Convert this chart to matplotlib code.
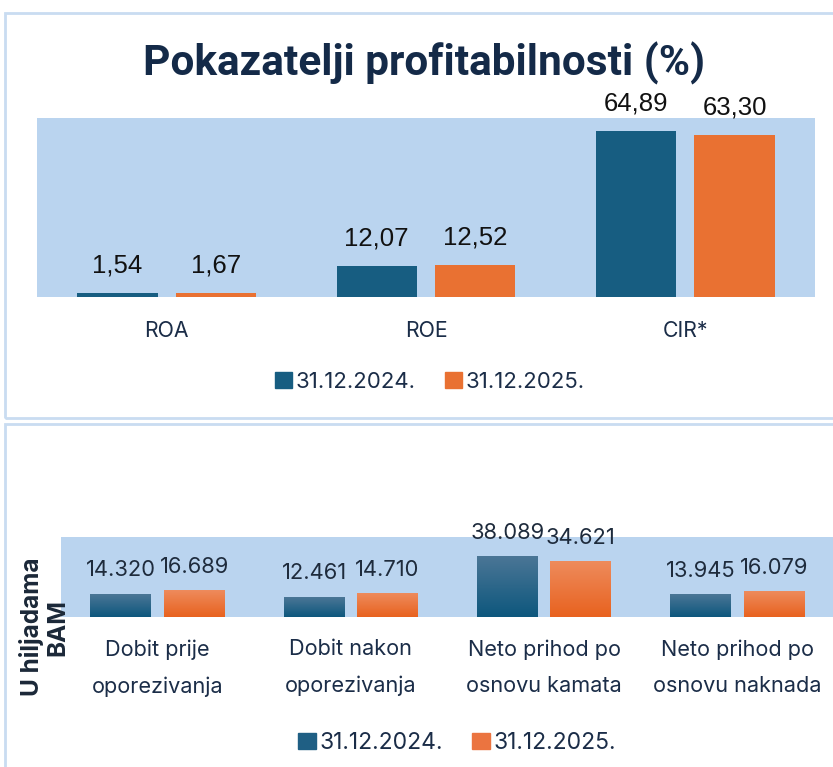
import numpy as np
import matplotlib
matplotlib.use("Agg")
import matplotlib.pyplot as plt
from matplotlib.patches import Rectangle, Patch
from matplotlib.colors import LinearSegmentedColormap

# data
top_categories = ["ROA", "ROE", "CIR*"]
top_2024 = [1.54, 12.07, 64.89]
top_2025 = [1.67, 12.52, 63.30]

bottom_categories = ["Dobit prije\noporezivanja", "Dobit nakon\noporezivanja",
                     "Neto prihod po\nosnovu kamata", "Neto prihod po\nosnovu naknada"]
bottom_2024 = [14320, 12461, 38089, 13945]
bottom_2025 = [16689, 14710, 34621, 16079]

series_labels = ["31.12.2024.", "31.12.2025."]
title = "Pokazatelji profitabilnosti (%)"
ylabel = "U hiljadama\nBAM"

BLUE = "#175D81"
ORANGE = "#E97132"
AREA = "#BAD4EF"
NAVY = "#1B2D48"
BORDER = "#C9DCF1"
W, H = 833, 767


def fmt_comma(v):
    return f"{v:.2f}".replace(".", ",")


def fmt_thousands(v):
    return f"{v:,.0f}".replace(",", ".")


def axes_rect(x0, y0, x1, y1):
    # pixel box (top-left origin) -> figure fraction
    return [x0 / W, 1 - y1 / H, (x1 - x0) / W, (y1 - y0) / H]


fig = plt.figure(figsize=(W / 100, H / 100), dpi=100)

# panel frames
for y0, y1 in ((13, 418), (424, 790)):
    fig.add_artist(Rectangle((5 / W, 1 - y1 / H), 1.0, (y1 - y0) / H,
                             transform=fig.transFigure, fill=False,
                             edgecolor=BORDER, linewidth=2, clip_on=False))

fig.text(424 / W, 1 - 63 / H, title, ha="center", va="center",
         fontsize=30.5, fontweight="bold", color="#142A48", family="Roboto")

# ---- top chart
ax = fig.add_axes(axes_rect(37, 118, 815, 297))
ax.set_facecolor(AREA)
x = np.arange(len(top_categories))
bw = 0.31
off = 0.19
b1 = ax.bar(x - off, top_2024, bw, color=BLUE)
b2 = ax.bar(x + off, top_2025, bw, color=ORANGE)
for bars, vals in ((b1, top_2024), (b2, top_2025)):
    for r, v in zip(bars, vals):
        ax.annotate(fmt_comma(v), (r.get_x() + r.get_width() / 2, v),
                    xytext=(0, 11), textcoords="offset points", ha="center",
                    va="bottom", fontsize=18.5, color="#111111",
                    family="Liberation Sans", annotation_clip=False)
ax.set_xlim(-0.5, len(top_categories) - 0.5)
ax.set_ylim(0, 69.8)
ax.set_yticks([])
ax.set_xticks(x)
ax.set_xticklabels(top_categories, fontsize=15.3, color=NAVY, family="Inter")
ax.tick_params(axis="x", length=0, pad=17)
for s in ax.spines.values():
    s.set_visible(False)
ax.legend(handles=[Patch(color=BLUE), Patch(color=ORANGE)], labels=series_labels,
          loc="center", bbox_to_anchor=(430 / W, 1 - 382 / H),
          bbox_transform=fig.transFigure, ncol=2, frameon=False,
          handlelength=0.75, handleheight=0.75, handletextpad=0.2,
          columnspacing=1.3, prop={"family": "Inter", "size": 16},
          labelcolor=NAVY)

# ---- bottom chart
ax2 = fig.add_axes(axes_rect(61, 537, 834, 617))
ax2.set_facecolor(AREA)
x2 = np.arange(len(bottom_categories))
bw2 = 0.315
off2 = 0.19
cmap_b = LinearSegmentedColormap.from_list("b", ["#0D577D", "#4B7696"])
cmap_o = LinearSegmentedColormap.from_list("o", ["#E8621F", "#EE8B5C"])
grad = np.linspace(0, 1, 100).reshape(-1, 1)
for xs, vals, cmap in ((x2 - off2, bottom_2024, cmap_b), (x2 + off2, bottom_2025, cmap_o)):
    for xc, v in zip(xs, vals):
        ax2.imshow(grad, extent=[xc - bw2 / 2, xc + bw2 / 2, 0, v], origin="lower",
                   aspect="auto", cmap=cmap, zorder=2)
        ax2.annotate(fmt_thousands(v), (xc, v), xytext=(0, 10),
                     textcoords="offset points", ha="center", va="bottom",
                     fontsize=15.8, color="#1E2B3C", family="Inter",
                     annotation_clip=False)
ax2.set_xlim(-0.5, len(bottom_categories) - 0.5)
ax2.set_ylim(0, 50300)
ax2.set_yticks([])
ax2.set_xticks(x2)
ax2.set_xticklabels(bottom_categories, fontsize=15.6, color=NAVY, family="Inter",
                    linespacing=2.0)
ax2.tick_params(axis="x", length=0, pad=16)
for s in ax2.spines.values():
    s.set_visible(False)
fig.text(44 / W, 1 - 627 / H, ylabel, rotation=90, ha="center", va="center",
         fontsize=17.5, fontweight="bold", color="#1B2838", family="Inter",
         linespacing=1.1)
ax2.legend(handles=[Patch(color="#1F5F84"), Patch(color="#EB7440")], labels=series_labels,
           loc="center", bbox_to_anchor=(457 / W, 1 - 743 / H),
           bbox_transform=fig.transFigure, ncol=2, frameon=False,
           handlelength=0.75, handleheight=0.75, handletextpad=0.15,
           columnspacing=1.3, prop={"family": "Inter", "size": 16.5},
           labelcolor=NAVY)

fig.savefig("out.png", dpi=100)
